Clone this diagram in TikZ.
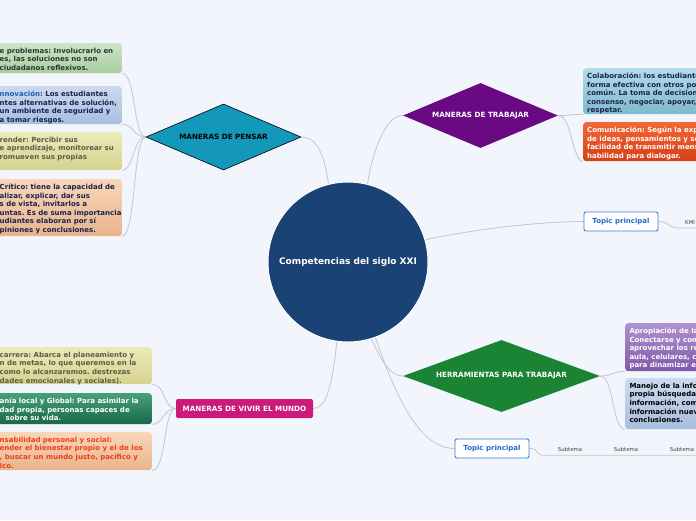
\documentclass[tikz,border=0pt]{standalone}
\usepackage{fontspec}
\setmainfont{DejaVu Sans}
\usetikzlibrary{shapes.geometric}
\frenchspacing
\definecolor{bgc}{RGB}{243,245,253}
\definecolor{connc}{RGB}{196,198,206}
\definecolor{centerc}{RGB}{27,66,116}
\definecolor{pensarc}{RGB}{20,152,186}
\definecolor{trabc}{RGB}{105,10,130}
\definecolor{herrc}{RGB}{27,131,52}
\definecolor{vivirc}{RGB}{204,26,122}
\definecolor{topicc}{RGB}{58,126,216}
\definecolor{topict}{RGB}{36,104,204}
\definecolor{subt}{RGB}{70,70,70}
\definecolor{greenT}{RGB}{204,228,200}\definecolor{greenB}{RGB}{168,206,160}
\definecolor{blueT}{RGB}{204,218,238}\definecolor{blueB}{RGB}{168,190,222}
\definecolor{khakiT}{RGB}{236,234,184}\definecolor{khakiB}{RGB}{214,210,142}
\definecolor{peachT}{RGB}{248,214,186}\definecolor{peachB}{RGB}{232,180,140}
\definecolor{tealT}{RGB}{180,220,232}\definecolor{tealB}{RGB}{128,184,204}
\definecolor{oranT}{RGB}{242,104,54}\definecolor{oranB}{RGB}{214,62,22}
\definecolor{purpT}{RGB}{176,146,206}\definecolor{purpB}{RGB}{128,88,170}
\definecolor{dgreenT}{RGB}{72,160,122}\definecolor{dgreenB}{RGB}{24,104,74}
\definecolor{txtgreen}{RGB}{42,56,42}
\definecolor{txtnavy}{RGB}{24,34,80}
\definecolor{txtolive}{RGB}{92,92,72}
\definecolor{txtred}{RGB}{236,62,20}
\definecolor{innc}{RGB}{30,92,176}
\pgfdeclarelayer{bg}
\pgfsetlayers{bg,main}
\begin{document}
\begin{tikzpicture}[x=1pt,y=-1pt,
  conn/.style={draw=connc, line width=0.8pt},
  boxtxt/.style={font=\fontsize{7}{8.6}\selectfont\bfseries, align=left, inner sep=0pt, anchor=north west},
  diam/.style={shape=diamond, shape aspect=2.35, inner sep=1pt, font=\fontsize{7.2}{8}\selectfont\bfseries},
  topicbox/.style={draw=topicc, fill=white, rounded corners=2pt, line width=0.9pt, minimum width=74pt, minimum height=19pt, inner sep=0pt, font=\fontsize{7}{8}\selectfont\bfseries, text=topict},
  card/.style={rounded corners=3pt, inner sep=0pt},
  leftcard/.style={card, minimum width=260pt, anchor=north east},
  rightcard/.style={card, minimum width=200pt, anchor=north west},
  subtxt/.style={font=\fontsize{5.4}{6}\selectfont, text=subt, inner sep=0pt}
]
\useasboundingbox (0,0) rectangle (696,520);
\begin{pgfonlayer}{bg}
\fill[bgc] (0,0) rectangle (696,520);
\end{pgfonlayer}
\clip (0,0) rectangle (696,520);

% central
\node[circle, minimum size=160pt, fill=centerc, draw=white, line width=1pt, font=\fontsize{9}{10}\selectfont\bfseries, text=white] (c) at (348,262) {Competencias del siglo XXI};

% main branches
\node[diam, minimum width=155pt, minimum height=66pt, fill=pensarc, draw=black, line width=0.6pt] (pensar) at (223.5,137) {MANERAS DE PENSAR};
\node[diam, minimum width=155pt, minimum height=65pt, fill=trabc, text=white] (trab) at (480.5,115.5) {MANERAS DE TRABAJAR};
\node[diam, shape aspect=2.7, minimum width=197pt, minimum height=72pt, fill=herrc, text=white] (herr) at (501.5,376) {HERRAMIENTAS PARA TRABAJAR};
\node[rectangle, rounded corners=2pt, minimum width=137pt, minimum height=19pt, inner sep=0pt, fill=vivirc, text=white, font=\fontsize{7.2}{8}\selectfont\bfseries] (vivir) at (244.5,408.5) {MANERAS DE VIVIR EL MUNDO};
\node[topicbox] (tp1) at (621,221.5) {Topic principal};
\node[topicbox] (tp2) at (492,448.5) {Topic principal};

% left cards (Maneras de pensar)
\node[leftcard, minimum height=30pt, top color=greenT, bottom color=greenB] (l1) at (122,43) {};
\node[boxtxt, text=txtgreen] (l1t) at (-0.5,47.7) {e problemas: Involucrarlo en\\es, las soluciones no son\\ciudadanos reflexivos.};
\node[leftcard, minimum height=38pt, top color=blueT, bottom color=blueB] (l2) at (122,86) {};
\node[boxtxt, text=txtnavy] (l2t) at (-0.5,90.7) {\textcolor{innc}{nnovación:} Los estudiantes\\ntes alternativas de solución,\\un ambiente de seguridad y\\a tomar riesgos.};
\node[leftcard, minimum height=38pt, top color=khakiT, bottom color=khakiB] (l3) at (122,132) {};
\node[boxtxt, text=txtolive] (l3t) at (-0.5,136.7) {render: Percibir sus\\e aprendizaje, monitorear su\\romueven sus propias};
\node[leftcard, minimum height=57pt, top color=peachT, bottom color=peachB] (l4) at (122,179) {};
\node[boxtxt, text=txtnavy] (l4t) at (-0.5,183.7) {Crítico: tiene la capacidad de\\alizar, explicar, dar sus\\s de vista, invitarlos a\\untas. Es de suma importancia\\udiantes elaboran por sí\\piniones y conclusiones.};

% right cards (Maneras de trabajar)
\node[rightcard, minimum height=46pt, top color=tealT, bottom color=tealB] (r1) at (583,68) {};
\node[boxtxt, text=txtnavy] (r1t) at (587,72.7) {Colaboración: los estudiantes\\forma efectiva con otros por\\común. La toma de decisiones\\consenso, negociar, apoyar,\\respetar.};
\node[rightcard, minimum height=39pt, top color=oranT, bottom color=oranB] (r2) at (583,122) {};
\node[boxtxt, text=white] (r2t) at (587,126.7) {Comunicación: Según la exp\\de ideas, pensamientos y se\\facilidad de transmitir mens\\habilidad para dialogar.};

% right cards (Herramientas)
\node[rightcard, minimum height=48pt, top color=purpT, bottom color=purpB] (r3) at (625,323) {};
\node[boxtxt, text=white] (r3t) at (629.3,327.7) {Apropiación de la\\Conectarse y com\\aprovechar los re\\aula, celulares, c\\para dinamizar e};
\node[rightcard, minimum height=51pt, top color=blueT, bottom color=blueB] (r4) at (625,378) {};
\node[boxtxt, text=black] (r4t) at (629.3,382.7) {Manejo de la info\\propia búsqueda\\información, com\\información nueva\\conclusiones.};

% bottom-left cards (Maneras de vivir)
\node[leftcard, minimum height=37pt, top color=khakiT, bottom color=khakiB] (b1) at (152,347) {};
\node[boxtxt, text=txtolive] (b1t) at (-0.5,351.7) {carrera: Abarca el planeamiento y\\n de metas, lo que queremos en la\\como lo alcanzaremos. destrezas\\dades emocionales y sociales).};
\node[leftcard, minimum height=31pt, top color=dgreenT, bottom color=dgreenB] (b2) at (152,393) {};
\node[boxtxt, text=white] (b2t) at (-0.5,397.7) {anía local y Global: Para asimilar la\\dad propia, personas capaces de\\\hspace*{6pt}sobre su vida.};
\node[leftcard, minimum height=38pt, top color=peachT, bottom color=peachB] (b3) at (152,432) {};
\node[boxtxt, text=txtred] (b3t) at (-0.5,436.7) {nsabilidad personal y social:\\ender el bienestar propio y el de los\\, buscar un mundo justo, pacífico y\\ico.};

% subtopics
\node[subtxt, anchor=base west] (kmi) at (685,224) {KMI};
\coordinate (kmiA) at (679,228);
\coordinate (kmiB) at (697,228);
\node[subtxt, minimum width=56pt, minimum height=12pt] (s1) at (570,449) {Subtema};
\node[subtxt, minimum width=56pt, minimum height=12pt] (s2) at (626,449) {Subtema};
\node[subtxt, minimum width=56pt, minimum height=12pt] (s3) at (682,449) {Subtema};

\begin{pgfonlayer}{bg}
\draw[conn] (c.104) .. controls (324,152) and (316,137) .. (pensar.east);
\draw[conn] (c.76) .. controls (373,150) and (386,115) .. (trab.west);
\draw[conn] (c.16) .. controls (475,229) and (540,221.5) .. (tp1.west);
\draw[conn] (c.-73) .. controls (382,362) and (390,376) .. (herr.west);
\draw[conn] (c.-70) .. controls (396,398) and (420,448.5) .. (tp2.west);
\draw[conn] (c.-98) .. controls (332,388) and (326,408.5) .. (vivir.east);
% pensar children
\draw[conn] (pensar.west) .. controls (133,137) and (136,73) .. (l1.south east);
\draw[conn] (pensar.west) .. controls (133,137) and (134,124) .. (l2.south east);
\draw[conn] (pensar.west) .. controls (133,137) and (134,170) .. (l3.south east);
\draw[conn] (pensar.west) .. controls (133,137) and (136,236) .. (l4.south east);
% trabajar children
\draw[conn] (trab.east) .. controls (572,115.5) and (572,114) .. (r1.south west);
\draw[conn] (trab.east) .. controls (572,115.5) and (572,161) .. (r2.south west);
% herramientas children
\draw[conn] (herr.east) .. controls (614,376) and (612,371) .. (r3.south west);
\draw[conn] (herr.east) .. controls (614,376) and (612,429) .. (r4.south west);
% vivir children
\draw[conn] (vivir.west) .. controls (163,408.5) and (166,384) .. (b1.south east);
\draw[conn] (vivir.west) .. controls (163,408.5) and (164,424) .. (b2.south east);
\draw[conn] (vivir.west) .. controls (163,408.5) and (167,470) .. (b3.south east);
% topics
\draw[conn] (tp1.east) .. controls (670,221.5) and (668,228) .. (kmiA) -- (kmiB);
\draw[conn] (tp2.east) .. controls (540,448.5) and (536,455) .. (s1.south west) -- (s1.south east) -- (s2.south east) -- (s3.south east);
\end{pgfonlayer}
\end{tikzpicture}
\end{document}
